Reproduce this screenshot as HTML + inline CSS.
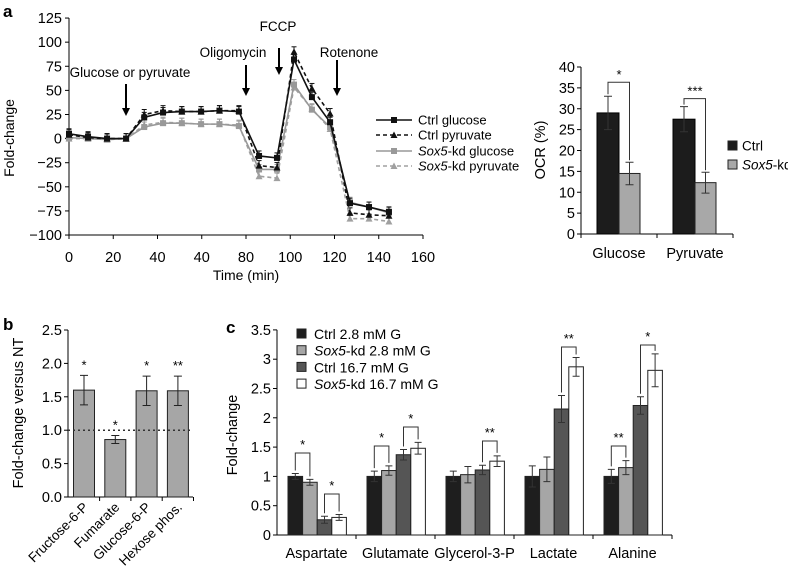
<!DOCTYPE html>
<html><head><meta charset="utf-8"><style>
body{margin:0;background:#fff;}
svg{display:block;font-family:"Liberation Sans",Arial,sans-serif;}
</style></head><body>
<svg id="fig" width="788" height="577" viewBox="0 0 788 577">
<g id="A"></g>
<g id="A2"></g>
<g id="B"></g>
<g id="C"></g>
</svg>
<script>
const times=[0,8.6,17.2,25.8,34,42.5,51,59.7,68,76.8,85.9,94,101.7,109.8,118,127,135.6,144.6];
const ctrlGlucose=[5,2,0,0,22,27,28,28,29,28,-18,-20,82,43,17,-67,-71,-76];
const ctrlPyruvate=[4,1,0,0,25,29,28,28,29,29,-28,-30,90,52,26,-77,-79,-80];
const soxGlucose=[1,0,-1,0,12,16,16,15,15,13,-32,-32,56,30,12,-66,-71,-77];
const soxPyruvate=[0,0,-1,0,14,17,16,15,15,14,-39,-41,53,31,10,-83,-83,-86];
const aYTicks=[125,100,75,50,25,0,-25,-50,-75,-100];
const aXTicks=[0,20,40,60,80,100,120,140,160];
const aXLabels=["0","20","40","40","80","100","120","140","160"];
const ocrCats=["Glucose","Pyruvate"];
const ocrCtrl=[29,27.5];const ocrCtrlErr=[4,3];
const ocrKd=[14.5,12.3];const ocrKdErr=[2.7,2.5];
const ocrTicks=[0,5,10,15,20,25,30,35,40];
const bCats=["Fructose-6-P","Fumarate","Glucose-6-P","Hexose phos."];
const bVals=[1.6,0.86,1.59,1.59];const bErr=[0.22,0.06,0.22,0.22];
const bStars=["*","*","*","**"];
const bTicks=[0,0.5,1,1.5,2,2.5];
const cCats=["Aspartate","Glutamate","Glycerol-3-P","Lactate","Alanine"];
const cCtrl28=[1.0,1.0,1.0,1.0,1.0];const cCtrl28Err=[0.05,0.09,0.09,0.18,0.12];
const cKd28=[0.9,1.1,1.03,1.12,1.15];const cKd28Err=[0.05,0.08,0.14,0.21,0.12];
const cCtrl167=[0.26,1.37,1.11,2.15,2.21];const cCtrl167Err=[0.06,0.09,0.08,0.23,0.15];
const cKd167=[0.3,1.48,1.26,2.87,2.81];const cKd167Err=[0.05,0.1,0.09,0.16,0.28];
const cTicks=[0,0.5,1,1.5,2,2.5,3,3.5];
const NS="http://www.w3.org/2000/svg";
function mk(p,t,a,txt){const e=document.createElementNS(NS,t);for(const k in a)e.setAttribute(k,a[k]);if(txt!=null)e.textContent=txt;p.appendChild(e);return e;}
const fig=document.getElementById('fig');
[["a",3,17],["b",3,330],["c",226,333]].forEach(l=>{const t=mk(fig,'text',{x:l[1],y:l[2],'font-size':17,'font-weight':'bold'},l[0]);

});

// ---- Panel A line chart
const A=document.getElementById('A');
const ax=v=>69+v*2.2125, ay=v=>138.6-v*0.9644;
mk(A,'line',{x1:69,y1:ay(125),x2:69,y2:ay(-100),stroke:'#000'});
mk(A,'line',{x1:69,y1:ay(-100),x2:423,y2:ay(-100),stroke:'#000'});
aYTicks.forEach(v=>{mk(A,'line',{x1:65,x2:69,y1:ay(v),y2:ay(v),stroke:'#000'});
const t=mk(A,'text',{x:62,y:ay(v)+5,'font-size':14.5,'text-anchor':'end'},String(v).replace('-','−'));

});
aXTicks.forEach((v,i)=>{mk(A,'line',{x1:ax(v),x2:ax(v),y1:ay(-100),y2:ay(-100)+4,stroke:'#000'});
const t=mk(A,'text',{x:ax(v),y:262,'font-size':14.5,'text-anchor':'middle'},aXLabels[i]);

});
let t=mk(A,'text',{x:246,y:280,'font-size':14,'text-anchor':'middle'},'Time (min)');


t=mk(A,'text',{x:0,y:0,'font-size':14,'text-anchor':'middle',transform:'translate(14,138) rotate(-90)'},'Fold-change');


const arrows=[["Glucose or pyruvate",126,130,77,84,116],["Oligomycin",246,233,57,65,96],["FCCP",279,278,31,48,75],["Rotenone",337,349,57,60,96]];
arrows.forEach(a=>{mk(A,'line',{x1:a[1],x2:a[1],y1:a[4],y2:a[5]-6,stroke:'#000','stroke-width':2});
mk(A,'polygon',{points:`${a[1]-4},${a[5]-8} ${a[1]+4},${a[5]-8} ${a[1]},${a[5]}`,fill:'#000'});
const tt=mk(A,'text',{x:a[2],y:a[3],'font-size':13.5,'text-anchor':'middle'},a[0]);

});
const series=[[soxPyruvate,'#a0a0a0','4,3','tri','sox5-kd-pyruvate'],[soxGlucose,'#999','','sq','sox5-kd-glucose'],[ctrlPyruvate,'#111','4,3','tri','ctrl-pyruvate'],[ctrlGlucose,'#111','','sq','ctrl-glucose']];
function marker(g,x,y,type,c){if(type==='sq')return mk(g,'rect',{x:x-3,y:y-3,width:6,height:6,fill:c});return mk(g,'polygon',{points:`${x-3.5},${y+3} ${x+3.5},${y+3} ${x},${y-3.5}`,fill:c});}
series.forEach(s=>{const g=mk(A,'g',{});


mk(g,'polyline',{points:times.map((tm,i)=>ax(tm)+','+ay(s[0][i])).join(' '),fill:'none',stroke:s[1],'stroke-width':1.6,'stroke-dasharray':s[2]});
times.forEach((tm,i)=>{const x=ax(tm),y=ay(s[0][i]);mk(g,'line',{x1:x,x2:x,y1:y-5,y2:y,stroke:s[1]});mk(g,'line',{x1:x-2.5,x2:x+2.5,y1:y-5,y2:y-5,stroke:s[1]});marker(g,x,y,s[3],s[1]);});});
const leg=[["Ctrl glucose",'#111','','sq',120,false],["Ctrl pyruvate",'#111','4,3','tri',135,false],["Sox5-kd glucose",'#999','','sq',151,true],["Sox5-kd pyruvate",'#a0a0a0','4,3','tri',166,true]];
leg.forEach(l=>{const g=mk(A,'g',{});


mk(g,'line',{x1:376,x2:412,y1:l[4],y2:l[4],stroke:l[1],'stroke-width':1.6,'stroke-dasharray':l[2]});marker(g,394,l[4],l[3],l[1]);
const tx=mk(g,'text',{x:418,y:l[4]+4.5,'font-size':13});
if(l[5]){mk(tx,'tspan',{'font-style':'italic'},'Sox5');mk(tx,'tspan',{},l[0].slice(4));}else tx.textContent=l[0];});

// ---- Panel A2 OCR bars
const A2=document.getElementById('A2');
const oy=v=>234-v*4.175;
mk(A2,'line',{x1:581,y1:oy(40),x2:581,y2:234,stroke:'#000'});
mk(A2,'line',{x1:581,y1:234,x2:733,y2:234,stroke:'#000'});
[581,657,733].forEach(x=>mk(A2,'line',{x1:x,x2:x,y1:234,y2:238,stroke:'#000'}));
ocrTicks.forEach(v=>{mk(A2,'line',{x1:577,x2:581,y1:oy(v),y2:oy(v),stroke:'#000'});
const tt=mk(A2,'text',{x:575,y:oy(v)+5,'font-size':14.5,'text-anchor':'end'},v);

});
t=mk(A2,'text',{x:0,y:0,'font-size':14.5,'text-anchor':'middle',transform:'translate(545,150) rotate(-90)'},'OCR (%)');


const ocrStars=["*","***"];
ocrCats.forEach((c,i)=>{const x0=597+i*76;
const r1=mk(A2,'rect',{x:x0,y:oy(ocrCtrl[i]),width:22,height:234-oy(ocrCtrl[i]),fill:'#1c1c1c',stroke:'#000'});


const r2=mk(A2,'rect',{x:x0+22,y:oy(ocrKd[i]),width:21,height:234-oy(ocrKd[i]),fill:'#a8a8a8',stroke:'#222'});


[[x0+11,ocrCtrl[i],ocrCtrlErr[i]],[x0+32.5,ocrKd[i],ocrKdErr[i]]].forEach(e=>{mk(A2,'path',{d:`M${e[0]} ${oy(e[1]-e[2])}V${oy(e[1]+e[2])}M${e[0]-4} ${oy(e[1]-e[2])}h8M${e[0]-4} ${oy(e[1]+e[2])}h8`,stroke:'#333',fill:'none'});});
const by=oy(ocrCtrl[i]+ocrCtrlErr[i])-(i?8:14);
mk(A2,'path',{d:`M${x0+11} ${oy(ocrCtrl[i]+ocrCtrlErr[i])-2}V${by}H${x0+32.5}V${oy(ocrKd[i]+ocrKdErr[i])-2}`,stroke:'#333',fill:'none'});
mk(A2,'text',{x:x0+22,y:by-3,'font-size':13,'text-anchor':'middle'},ocrStars[i]);
const tt=mk(A2,'text',{x:x0+22,y:258,'font-size':14.5,'text-anchor':'middle'},c);

});
[["Ctrl",'#1c1c1c'],["Sox5-kd",'#a8a8a8']].forEach((l,i)=>{const yy=[146,165][i];mk(A2,'rect',{x:728,y:yy-5,width:9,height:9,fill:l[1],stroke:'#222'});
const tx=mk(A2,'text',{x:742,y:yy+4.5,'font-size':13.5});


if(i){mk(tx,'tspan',{'font-style':'italic'},'Sox5');mk(tx,'tspan',{},'-kd');}else tx.textContent='Ctrl';});

// ---- Panel B
const B=document.getElementById('B');
const byf=v=>497-v*66.8;
mk(B,'line',{x1:68,y1:byf(2.5),x2:68,y2:497,stroke:'#000'});
mk(B,'line',{x1:68,y1:497,x2:193,y2:497,stroke:'#000'});
bTicks.forEach(v=>{mk(B,'line',{x1:64,x2:68,y1:byf(v),y2:byf(v),stroke:'#000'});
const tt=mk(B,'text',{x:62,y:byf(v)+5,'font-size':14.5,'text-anchor':'end'},v.toFixed(1));

});
t=mk(B,'text',{x:0,y:0,'font-size':14.5,'text-anchor':'middle',transform:'translate(23,413) rotate(-90)'},'Fold-change versus NT');


bCats.forEach((c,i)=>{const cx=84+i*31.3;
const r=mk(B,'rect',{x:cx-10.5,y:byf(bVals[i]),width:21,height:497-byf(bVals[i]),fill:'#a6a6a6',stroke:'#222'});


const lo=byf(bVals[i]-bErr[i]),hi=byf(bVals[i]+bErr[i]);
mk(B,'path',{d:`M${cx} ${lo}V${hi}M${cx-4} ${lo}h8M${cx-4} ${hi}h8`,stroke:'#222',fill:'none'});
mk(B,'text',{x:cx,y:hi-6,'font-size':13,'text-anchor':'middle'},bStars[i]);
mk(B,'line',{x1:cx+15.6,x2:cx+15.6,y1:497,y2:501,stroke:'#000'});
const tt=mk(B,'text',{x:0,y:0,'font-size':13.5,'text-anchor':'end',transform:`translate(${cx+5},${508}) rotate(-45)`},c);

});
mk(B,'line',{x1:68,x2:193,y1:byf(1),y2:byf(1),stroke:'#333','stroke-dasharray':'2,3','stroke-width':1.5});

// ---- Panel C
const C=document.getElementById('C');
const cy=v=>535-v*58.6;
mk(C,'line',{x1:277,y1:cy(3.5),x2:277,y2:535,stroke:'#000'});
mk(C,'line',{x1:277,y1:535,x2:672,y2:535,stroke:'#000'});
cTicks.forEach(v=>{mk(C,'line',{x1:273,x2:277,y1:cy(v),y2:cy(v),stroke:'#000'});
const tt=mk(C,'text',{x:271,y:cy(v)+5,'font-size':14.5,'text-anchor':'end'},String(v));

});
t=mk(C,'text',{x:0,y:0,'font-size':14.5,'text-anchor':'middle',transform:'translate(237,435) rotate(-90)'},'Fold-change');


const cSeries=[[cCtrl28,cCtrl28Err,'#1e1e1e'],[cKd28,cKd28Err,'#a6a6a6'],[cCtrl167,cCtrl167Err,'#555'],[cKd167,cKd167Err,'#fff']];
const brackets=[[0,0,1,"*",453],[0,2,3,"*",494],[1,0,1,"*",446],[1,2,3,"*",427],[2,2,3,"**",441],[3,2,3,"**",347],[4,0,1,"**",446],[4,2,3,"*",345]];
const bx=(g,s)=>277+g*79+11+s*14.6;
cCats.forEach((c,g)=>{mk(C,'line',{x1:277+(g+1)*79,x2:277+(g+1)*79,y1:535,y2:539,stroke:'#000'});
const tt=mk(C,'text',{x:277+g*79+39.5,y:558,'font-size':14.5,'text-anchor':'middle'},c);


cSeries.forEach((s,k)=>{const x=bx(g,k);
const r=mk(C,'rect',{x:x,y:cy(s[0][g]),width:14.6,height:535-cy(s[0][g]),fill:s[2],stroke:'#222'});


const lo=cy(s[0][g]-s[1][g]),hi=cy(s[0][g]+s[1][g]),m=x+7.3;
mk(C,'path',{d:`M${m} ${lo}V${hi}M${m-3.5} ${lo}h7M${m-3.5} ${hi}h7`,stroke:'#333',fill:'none'});});});
brackets.forEach(b=>{const [g,s1,s2,st,yy]=b;const s=cSeries;const x1=bx(g,s1)+7.3,x2=bx(g,s2)+7.3;
mk(C,'path',{d:`M${x1} ${cy(s[s1][0][g]+s[s1][1][g])-3}V${yy}H${x2}V${cy(s[s2][0][g]+s[s2][1][g])-3}`,stroke:'#333',fill:'none'});
mk(C,'text',{x:(x1+x2)/2,y:yy-4,'font-size':13,'text-anchor':'middle'},st);});
[["Ctrl 2.8 mM G",'#1e1e1e',false],["Sox5-kd 2.8 mM G",'#a6a6a6',true],["Ctrl 16.7 mM G",'#555',false],["Sox5-kd 16.7 mM G",'#fff',true]].forEach((l,i)=>{const yy=334+i*16.7;
const g=mk(C,'g',{});


mk(g,'rect',{x:297,y:yy-5,width:9,height:9,fill:l[1],stroke:'#222'});
const tx=mk(g,'text',{x:314,y:yy+5,'font-size':14});
if(l[2]){mk(tx,'tspan',{'font-style':'italic'},'Sox5');mk(tx,'tspan',{},l[0].slice(4));}else tx.textContent=l[0];});
</script>
</body></html>
